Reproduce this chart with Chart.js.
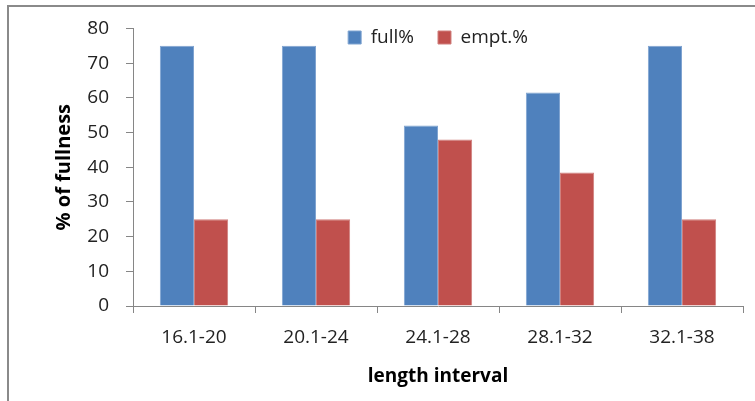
<!DOCTYPE html>
<html>
<head>
<meta charset="utf-8">
<script src="https://cdn.jsdelivr.net/npm/chart.js@4"></script>
<style>
  html, body { margin: 0; padding: 0; background: #fff; }
  #wrap { position: relative; width: 755px; height: 401px; overflow: hidden; }
  #frame { position: absolute; left: 7px; top: 5px; width: 760px; height: 410px;
           border-top: 2px solid #8a8a8a; border-left: 2px solid #8a8a8a; }
  canvas { position: absolute; left: 0; top: 0; }
</style>
</head>
<body>
<div id="wrap">
  <div id="frame"></div>
  <canvas id="chart" width="755" height="401"></canvas>
</div>
<script>
// length classes and % fullness of stomachs
const intervals = ['16.1-20', '20.1-24', '24.1-28', '28.1-32', '32.1-38'];
const fullPct = [75, 75, 52, 61.5, 75];
const emptPct = [25, 25, 48, 38.5, 25];
const yTicks = [0, 10, 20, 30, 40, 50, 60, 70, 80];

const axisColor = '#868686';
const fontFam = '"Open Sans", Lato, sans-serif';

// legend floats over the top of the plot area: it takes no layout room,
// then its box is moved/enlarged so the items are not clipped away
const legendFloat = {
  id: 'legendFloat',
  afterInit(chart) {
    const lg = chart.legend;
    const origFit = lg.fit;
    lg.fit = function () {
      origFit.call(this);
      this.height = 0;
    };
  },
  afterLayout(chart) {
    const lg = chart.legend;
    lg.top = 4;
    lg.bottom = 63;
    lg.height = 59;
  }
};

const ctx = document.getElementById('chart').getContext('2d');
new Chart(ctx, {
  type: 'bar',
  data: {
    labels: intervals,
    datasets: [
      { label: 'full%', data: fullPct, backgroundColor: '#4F81BD',
        borderColor: '#7fa3d0', borderWidth: 1, borderSkipped: 'bottom' },
      { label: 'empt.%', data: emptPct, backgroundColor: '#C0504D',
        borderColor: '#d07f7d', borderWidth: 1, borderSkipped: 'bottom' }
    ]
  },
  plugins: [legendFloat],
  options: {
    responsive: false,
    animation: false,
    layout: { padding: { left: 0, top: 26, right: 12, bottom: 0 } },
    datasets: { bar: { categoryPercentage: 0.56, barPercentage: 1 } },
    plugins: {
      legend: {
        position: 'top',
        align: 'center',
        fullSize: false,
        labels: {
          boxWidth: 13, boxHeight: 13, padding: 24,
          color: '#222', font: { family: fontFam, size: 19 }
        }
      },
      tooltip: { enabled: false }
    },
    scales: {
      x: {
        offset: true,
        afterFit(scale) { scale.height = 95; },
        border: { color: axisColor, width: 1 },
        grid: { offset: true, drawOnChartArea: false, color: axisColor, tickLength: 7 },
        ticks: { color: '#222', padding: 13, font: { family: fontFam, size: 19 } },
        title: {
          display: true, text: 'length interval', color: '#000',
          font: { family: fontFam, size: 19, weight: 'bold' },
          padding: { top: 0, bottom: 13 }
        }
      },
      y: {
        min: 0, max: 80,
        afterFit(scale) { scale.width = 133; },
        afterBuildTicks(scale) { scale.ticks = yTicks.map(v => ({ value: v })); },
        border: { color: axisColor, width: 1 },
        grid: { drawOnChartArea: false, color: axisColor, tickLength: 7 },
        ticks: { color: '#222', padding: 17, font: { family: fontFam, size: 19 } },
        title: {
          display: true, text: '% of fullness', color: '#000',
          font: { family: fontFam, size: 20, weight: 'bold' },
          padding: { top: 52, bottom: 0 }
        }
      }
    }
  }
});
</script>
</body>
</html>
